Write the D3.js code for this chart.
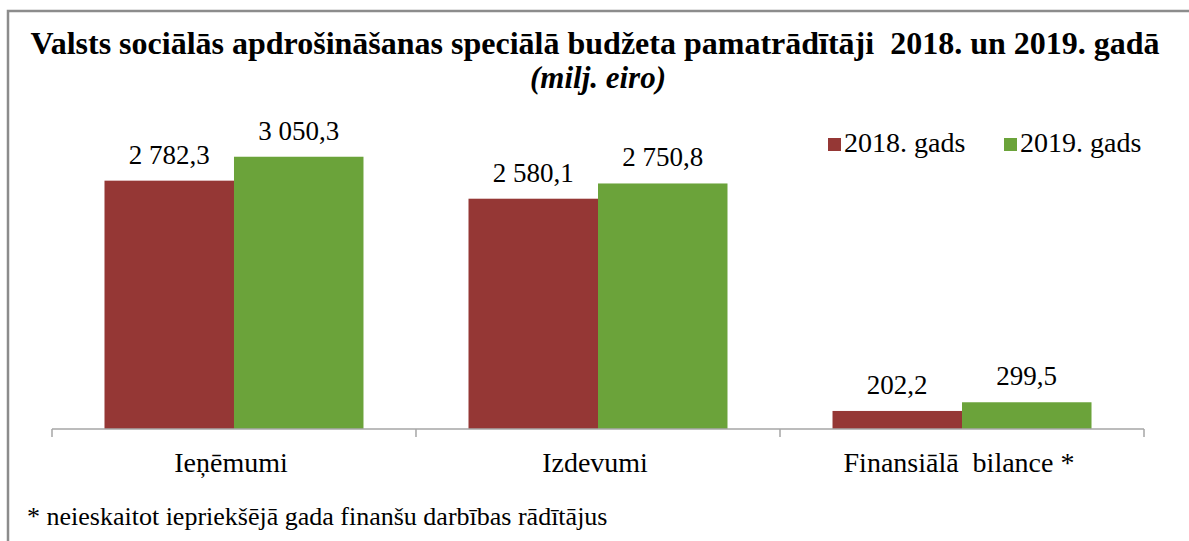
<!DOCTYPE html>
<html>
<head>
<meta charset="utf-8">
<script src="https://cdn.jsdelivr.net/npm/d3@7"></script>
<style>
  html, body { margin: 0; padding: 0; background: #fff; }
  svg { display: block; }
</style>
</head>
<body>
<svg id="chart" width="1189" height="541"></svg>
<script>
const categories = ["Ieņēmumi", "Izdevumi", "Finansiālā  bilance *"];
const seriesNames = ["2018. gads", "2019. gads"];
const values2018 = [2782.3, 2580.1, 202.2];
const values2019 = [3050.3, 2750.8, 299.5];
const valueLabels2018 = ["2 782,3", "2 580,1", "202,2"];
const valueLabels2019 = ["3 050,3", "2 750,8", "299,5"];
const colors = ["#953735", "#6ba33a"];
const titleText = "Valsts sociālās apdrošināšanas speciālā budžeta pamatrādītāji  2018. un 2019. gadā";
const subtitleText = "(milj. eiro)";
const footnoteText = "* neieskaitot iepriekšējā gada finanšu darbības rādītājus";

const FONT = "Liberation Serif";
const svg = d3.select("#chart").attr("font-family", FONT).style("font-family", FONT);
svg.append("rect").attr("width", 1189).attr("height", 541).attr("fill", "#fff");

svg.append("path")
  .attr("d", "M8,541 L8,11 L1189,11")
  .attr("fill", "none").attr("stroke", "#8c8c8c").attr("stroke-width", 2.5);

function txt(sel) { return sel.attr("font-family", FONT).attr("fill", "#000"); }

txt(svg.append("text")).attr("x", 595).attr("y", 54).attr("text-anchor", "middle")
  .attr("font-weight", "bold").attr("font-size", 32).style("white-space", "pre")
  .text(titleText);
txt(svg.append("text")).attr("x", 598).attr("y", 88).attr("text-anchor", "middle")
  .attr("font-weight", "bold").attr("font-style", "italic").attr("font-size", 31)
  .text(subtitleText);

const x0 = d3.scaleBand().domain(categories).range([52, 1144]).paddingInner(0.2885).paddingOuter(0.1442);
const x1 = d3.scaleBand().domain(seriesNames).range([0, x0.bandwidth()]).padding(0);
const y = d3.scaleLinear().domain([0, 3500]).range([429, 116.6]);

const data = categories.map((c, i) => ({
  cat: c,
  vals: [
    { s: seriesNames[0], v: values2018[i], lab: valueLabels2018[i], col: colors[0] },
    { s: seriesNames[1], v: values2019[i], lab: valueLabels2019[i], col: colors[1] }
  ]
}));

const groups = svg.append("g").selectAll("g.cat").data(data).join("g")
  .attr("class", "cat").attr("transform", d => `translate(${x0(d.cat)},0)`);
groups.selectAll("rect").data(d => d.vals).join("rect")
  .attr("x", d => x1(d.s)).attr("width", x1.bandwidth())
  .attr("y", d => y(d.v)).attr("height", d => y(0) - y(d.v))
  .attr("fill", d => d.col);
txt(groups.selectAll("text.val").data(d => d.vals).join("text"))
  .attr("class", "val")
  .attr("x", d => x1(d.s) + x1.bandwidth() / 2)
  .attr("y", d => y(d.v) - 17)
  .attr("text-anchor", "middle").attr("font-size", 27)
  .text(d => d.lab);

const axisG = svg.append("g").attr("transform", `translate(0,${y(0)})`);
axisG.append("line").attr("x1", 52).attr("x2", 1144).attr("y1", 0).attr("y2", 0)
  .attr("stroke", "#a6a6a6").attr("stroke-width", 1.5);
const tickPos = [x0.range()[0]].concat(categories.map(c => x0(c) + x0.bandwidth() + x0.step() * x0.paddingInner() / 2));
tickPos[tickPos.length - 1] = x0.range()[1];
axisG.selectAll("line.tick").data(tickPos).join("line").attr("class", "tick")
  .attr("x1", d => d).attr("x2", d => d).attr("y1", 0).attr("y2", 8)
  .attr("stroke", "#a6a6a6").attr("stroke-width", 1.5);
txt(axisG.selectAll("text.cat").data(categories).join("text")).attr("class", "cat")
  .attr("x", d => x0(d) + x0.bandwidth() / 2 - 3).attr("y", 43)
  .attr("text-anchor", "middle").attr("font-size", 28).style("white-space", "pre")
  .text(d => d);

const legend = svg.append("g");
const legX = [828, 1004];
seriesNames.forEach((s, i) => {
  legend.append("rect").attr("x", legX[i]).attr("y", 138).attr("width", 13).attr("height", 13).attr("fill", colors[i]);
  txt(legend.append("text")).attr("x", legX[i] + 16).attr("y", 152).attr("font-size", 28).text(s);
});

txt(svg.append("text")).attr("x", 27).attr("y", 525).attr("font-size", 26).text(footnoteText);
</script>
</body>
</html>
